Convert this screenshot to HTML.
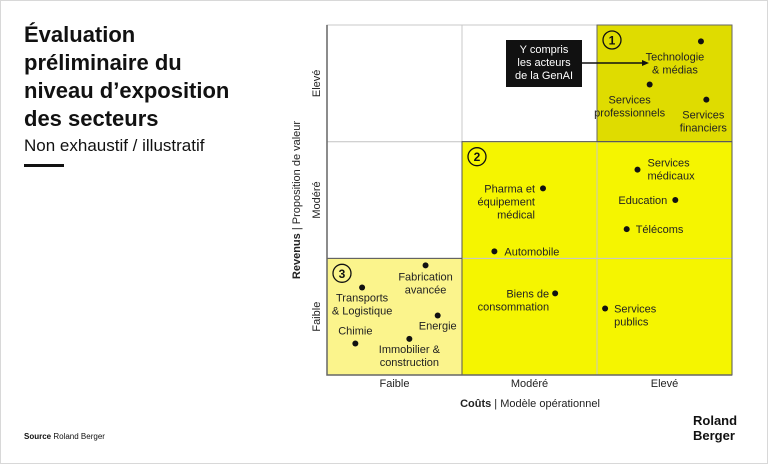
<!DOCTYPE html>
<html><head><meta charset="utf-8"><style>
body{margin:0;background:#fff;}
#wrap{position:relative;width:768px;height:464px;overflow:hidden;font-family:"Liberation Sans",sans-serif;}
svg text{font-family:"Liberation Sans",sans-serif;}
</style></head><body>
<div id="wrap">
<svg id="svg" width="768" height="464" viewBox="0 0 768 464">
<rect x="0.5" y="0.5" width="767" height="463" fill="#fff" stroke="#d8d8d8"/>
<text x="24" y="42" font-size="22" font-weight="bold" fill="#111">Évaluation</text>
<text x="24" y="70" font-size="22" font-weight="bold" fill="#111">préliminaire du</text>
<text x="24" y="98" font-size="22" font-weight="bold" fill="#111">niveau d’exposition</text>
<text x="24" y="126" font-size="22" font-weight="bold" fill="#111">des secteurs</text>
<text x="24" y="151" font-size="17" fill="#111">Non exhaustif / illustratif</text>
<rect x="24" y="164" width="40" height="3" fill="#111"/>
<text x="24" y="439" font-size="8" fill="#111"><tspan font-weight="bold">Source</tspan> Roland Berger</text>
<text x="693" y="425" font-size="13" font-weight="bold" fill="#111">Roland</text>
<text x="693" y="440" font-size="13" font-weight="bold" fill="#111">Berger</text>
<g id="grid"></g>
<g id="marks"></g>
</svg>
</div>
<script>
const colLabels=["Faible","Modéré","Elevé"];
const rowLabels=["Faible","Modéré","Elevé"];
const sectors=["Technologie & médias","Services professionnels","Services financiers","Services médicaux","Education","Télécoms","Pharma et équipement médical","Automobile","Fabrication avancée","Transports & Logistique","Energie","Immobilier & construction","Chimie","Biens de consommation","Services publics"];
const costVals=[2.77,2.39,2.81,2.30,2.58,2.22,1.60,1.24,0.73,0.26,0.82,0.61,0.21,1.69,2.06];
const revenueVals=[2.86,2.49,2.36,1.76,1.50,1.25,1.60,1.06,0.94,0.75,0.51,0.31,0.27,0.70,0.57];

const X0=327,X1=732,Y0=375,Y1=25;
const xs=v=>X0+(X1-X0)*v/3;
const ys=v=>Y0-(Y0-Y1)*v/3;
const NS="http://www.w3.org/2000/svg";
function mk(tag,attrs,parent){const e=document.createElementNS(NS,tag);for(const k in attrs)e.setAttribute(k,attrs[k]);parent.appendChild(e);return e;}
const grid=document.getElementById('grid'),marks=document.getElementById('marks');
// cell fills [col][row]
const fills={"2,2":"#dfdc00","1,1":"#f5f500","2,1":"#f5f500","1,0":"#f5f500","2,0":"#f5f500","0,0":"#fbf48c"};
for(let c=0;c<3;c++)for(let r=0;r<3;r++){
 const f=fills[c+","+r]||"#fff";
 const e=mk('rect',{x:xs(c),y:ys(r+1),width:xs(c+1)-xs(c),height:ys(r)-ys(r+1),fill:f,stroke:"#c8c8c8","stroke-width":1},grid);
 
 
}
// dark borders of zones
const zb=[[2,2],[1,1],[0,0]];
const zsz=[[1,1],[2,2],[1,1]];
mk('path',{d:`M${xs(2)} ${ys(3)}H${xs(3)}V${ys(2)}H${xs(2)}Z`,fill:"none",stroke:"#666","stroke-width":1},grid);
mk('path',{d:`M${xs(1)} ${ys(2)}H${xs(3)}V${ys(0)}H${xs(1)}Z`,fill:"none",stroke:"#555","stroke-width":1},grid);
mk('path',{d:`M${xs(0)} ${ys(1)}H${xs(1)}V${ys(0)}H${xs(0)}Z`,fill:"none",stroke:"#555","stroke-width":1},grid);
mk('path',{d:`M${X0} ${Y1}V${Y0}H${X1}`,fill:"none",stroke:"#666","stroke-width":1.5},grid);
// zone numbers
[["1",xs(2)+15,ys(3)+15],["2",xs(1)+15,ys(2)+15],["3",xs(0)+15,ys(1)+15]].forEach((z,i)=>{
 const c=mk('circle',{cx:z[1],cy:z[2],r:9,fill:"none",stroke:"#111","stroke-width":1.3},grid);
 
 
 const t=mk('text',{x:z[1],y:z[2]+4.5,"font-size":12,"font-weight":"bold","text-anchor":"middle",fill:"#111"},grid);t.textContent=z[0];
});
// axis labels
colLabels.forEach((l,i)=>{const t=mk('text',{x:(xs(i)+xs(i+1))/2,y:387,"font-size":11,"text-anchor":"middle",fill:"#222"},grid);t.textContent=l;
 });
rowLabels.forEach((l,i)=>{const cy=(ys(i)+ys(i+1))/2;const t=mk('text',{x:320,y:cy,"font-size":11,"text-anchor":"middle",fill:"#222",transform:`rotate(-90 320 ${cy})`},grid);t.textContent=l;
 });
const xt=mk('text',{x:530,y:407,"font-size":11,"text-anchor":"middle",fill:"#222"},grid);
xt.innerHTML='<tspan font-weight="bold">Coûts</tspan> | Modèle opérationnel';

const yt=mk('text',{x:300,y:200,"font-size":11,"text-anchor":"middle",fill:"#222",transform:"rotate(-90 300 200)"},grid);
yt.innerHTML='<tspan font-weight="bold">Revenus</tspan> | Proposition de valeur';

// label layout: [dx,dy,anchor,lines]
const lay=[[-26,19,"middle",["Technologie","& médias"]],[-20,19,"middle",["Services","professionnels"]],[-3,19,"middle",["Services","financiers"]],[10,-3,"start",["Services","médicaux"]],[-8,4,"end",["Education"]],[9,4,"start",["Télécoms"]],[-8,4,"end",["Pharma et","équipement","médical"]],[10,4,"start",["Automobile"]],[0,15,"middle",["Fabrication","avancée"]],[0,14,"middle",["Transports","& Logistique"]],[0,14,"middle",["Energie"]],[0,14,"middle",["Immobilier &","construction"]],[0,-9,"middle",["Chimie"]],[-6,4,"end",["Biens de","consommation"]],[9,4,"start",["Services","publics"]]];
sectors.forEach((s,i)=>{
 const cx=xs(costVals[i]),cy=ys(revenueVals[i]);
 const d=mk('circle',{cx:cx,cy:cy,r:3,fill:"#111"},marks);
 
 
 const L=lay[i];
 const t=mk('text',{x:cx+L[0],y:cy+L[1],"font-size":11,"text-anchor":L[2],fill:"#222"},marks);
 
 
 L[3].forEach((ln,j)=>{const sp=mk('tspan',{x:cx+L[0],dy:j?13:0},t);sp.textContent=ln;});
});
// callout
const cb=mk('rect',{x:506,y:40,width:76,height:47,fill:"#111"},marks);

const ct=mk('text',{x:544,y:53,"font-size":11,"text-anchor":"middle",fill:"#fff"},marks);
["Y compris","les acteurs","de la GenAI"].forEach((l,j)=>{const sp=mk('tspan',{x:544,dy:j?13:0},ct);sp.textContent=l;});
mk('line',{x1:582,y1:63,x2:645,y2:63,stroke:"#111","stroke-width":1.5},marks);
mk('path',{d:"M649 63 L642 60 L642 66 Z",fill:"#111"},marks);
</script>
</body></html>
